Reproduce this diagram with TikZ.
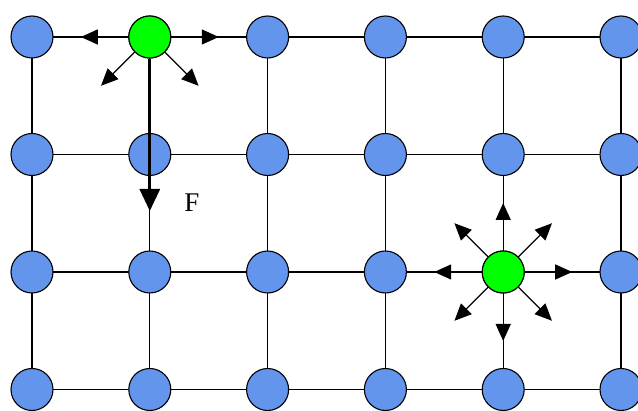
\documentclass[tikz,border=0pt]{standalone}
\usepackage{fontspec}
\setmainfont{Liberation Serif}
\usetikzlibrary{arrows.meta}
\definecolor{nodeblue}{HTML}{6495ED}
\definecolor{nodegreen}{HTML}{00FF00}
\tikzset{
  site/.style={circle,draw=black,line width=1.1pt,minimum size=42pt,inner sep=0pt},
  bluesite/.style={site,fill=nodeblue},
  greensite/.style={site,fill=nodegreen},
  gridline/.style={line width=1.3pt,black},
  arr/.style={line width=1.3pt,-{Triangle[length=17pt,width=15pt]}},
  forcearr/.style={line width=3pt,-{Triangle[length=22pt,width=20pt]}}
}
\begin{document}
\begin{tikzpicture}[x=1pt,y=1pt]
\useasboundingbox (0,0) rectangle (638,411);
% grid coordinates
\foreach \i/\x in {0/32,1/149.8,2/267.6,3/385.4,4/503.2,5/621}{
  \foreach \j/\y in {0/374,1/256.5,2/139,3/21.5}{
    \coordinate (c-\i-\j) at (\x,\y);
  }
}
% grid lines
\foreach \i in {0,...,5}{
  \draw[gridline] (c-\i-0) -- (c-\i-3);
}
\foreach \j in {0,...,3}{
  \draw[gridline] (c-0-\j) -- (c-5-\j);
}
% sites
\foreach \i in {0,...,5}{
  \foreach \j in {0,...,3}{
    \node[bluesite] (n-\i-\j) at (c-\i-\j) {};
  }
}
\node[greensite] (g1) at (c-1-0) {};
\node[greensite] (g2) at (c-4-2) {};
% arrows around top green site
\foreach \a/\k in {180/l,0/r,225/dl,315/dr}{
  \path (g1.center) ++(\a:69) coordinate (t1-\k);
  \draw[arr] (g1) -- (t1-\k);
}
% arrows around right green site
\foreach \a in {0,45,...,315}{
  \path (g2.center) ++(\a:69) coordinate (t2-\a);
  \draw[arr] (g2) -- (t2-\a);
}
% force arrow
\coordinate (ftip) at (149.8,200);
\draw[forcearr] (g1) -- (ftip);
\node[font=\fontsize{27}{27}\selectfont,anchor=center] (F) at (192,208) {F};
\end{tikzpicture}
\end{document}
